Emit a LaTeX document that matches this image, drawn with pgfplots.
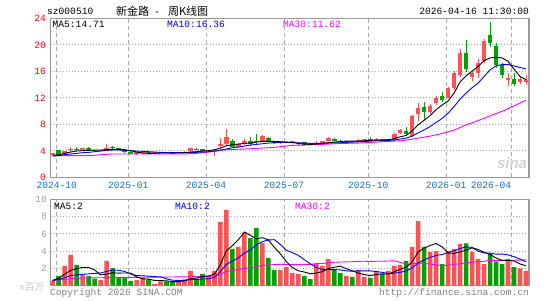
\documentclass[border=0pt]{standalone}
\usepackage{pgfplots}
\pgfplotsset{compat=1.18}
\usepackage{pgfplotstable}
\usepackage{fontspec}
\setmainfont{Liberation Sans}
\setmonofont{Liberation Mono}
\newfontfamily\cjk{Noto Sans CJK SC}
\definecolor{kred}{RGB}{255,82,82}
\definecolor{kgreen}{RGB}{0,160,0}
\definecolor{mablue}{RGB}{0,0,255}
\definecolor{mamag}{RGB}{255,0,255}
\definecolor{framegray}{RGB}{153,153,153}
\definecolor{gridgray}{RGB}{170,170,170}
\definecolor{datecol}{RGB}{20,110,200}
\definecolor{vgray}{RGB}{160,160,160}
\newcommand\mono{\ttfamily\fontsize{9.6}{10}\selectfont}

% weekly candles: index, open, high, low, close
\pgfplotstableread{
i o h l c
0 3.35 3.65 3.30 3.60
2 3.55 3.95 3.50 3.90
3 4.15 4.50 3.75 4.25
5 4.10 4.40 4.05 4.35
8 3.95 4.15 3.90 4.10
9 4.15 5.00 4.05 4.45
14 3.50 3.80 3.35 3.75
15 3.60 3.90 3.55 3.85
17 3.70 3.80 3.65 3.75
18 3.70 3.85 3.65 3.80
21 3.65 3.80 3.60 3.75
22 3.75 3.90 3.70 3.85
23 3.90 4.45 3.85 4.40
26 4.00 4.15 3.95 4.10
27 4.05 4.15 3.20 4.10
28 4.70 5.90 4.60 5.00
29 5.00 7.30 4.80 6.10
31 4.60 5.10 4.50 5.05
32 5.00 5.80 4.90 5.50
35 5.50 6.30 5.40 6.20
38 5.15 5.40 5.00 5.25
39 5.20 5.50 5.10 5.35
40 5.30 5.50 5.15 5.40
41 5.10 5.30 4.75 5.15
44 4.90 5.50 4.85 5.20
45 5.15 5.50 5.05 5.40
46 5.45 6.10 5.40 5.95
49 5.30 5.45 5.25 5.40
51 5.30 5.80 5.10 5.55
52 5.55 5.80 5.50 5.70
54 5.60 5.85 5.55 5.75
56 5.45 5.80 5.40 5.75
57 5.65 6.60 5.60 6.50
58 6.60 7.30 6.50 7.10
60 6.20 9.40 6.10 9.20
61 9.60 11.20 8.50 10.40
63 9.90 11.00 9.50 10.70
64 11.15 12.30 10.90 12.00
66 12.00 13.60 11.90 13.45
67 13.45 16.00 13.20 15.80
68 15.50 19.40 15.20 18.80
70 15.20 16.00 14.50 15.80
71 15.80 17.80 15.00 17.20
72 17.50 20.80 17.30 20.60
76 14.60 15.70 13.80 15.00
78 14.30 15.10 14.10 14.80
79 14.40 15.50 13.90 14.70
}\kR
\pgfplotstableread{
i o h l c
1 4.10 4.15 3.30 3.35
4 4.30 4.50 4.00 4.20
6 4.40 4.60 3.95 4.05
7 4.05 4.15 3.90 3.95
10 4.50 4.75 4.20 4.45
11 4.35 4.45 4.15 4.20
12 4.15 4.25 3.60 3.80
13 3.85 3.90 3.50 3.55
16 3.80 3.90 3.65 3.70
19 3.80 3.85 3.65 3.70
20 3.70 3.75 3.60 3.65
24 4.30 4.40 4.10 4.25
25 4.20 4.25 3.85 3.90
30 5.50 5.70 4.50 4.60
33 5.40 6.10 4.70 5.00
34 5.40 6.50 4.90 5.30
36 5.90 6.00 5.30 5.45
37 5.45 5.50 5.00 5.20
42 5.25 5.35 4.85 4.90
43 4.95 5.05 4.80 4.85
47 5.80 5.85 5.40 5.45
48 5.50 5.55 5.20 5.25
50 5.40 5.45 5.25 5.30
53 5.75 6.00 5.50 5.70
55 5.75 5.80 5.45 5.50
59 7.00 7.60 6.20 6.50
62 10.60 11.30 8.80 9.90
65 12.30 12.90 11.40 11.65
69 18.80 20.70 15.90 16.40
73 21.50 23.50 19.70 20.30
74 19.80 20.20 16.50 16.90
75 16.90 17.20 14.90 15.40
77 14.80 15.80 13.80 14.10
}\kG
% volume (x million)
\pgfplotstableread{
i v
0 0.55
2 2.27
3 3.55
5 1.2
8 0.64
9 2.85
14 0.64
15 0.9
17 0.17
18 0.47
21 0.64
22 0.7
23 1.7
26 1.0
27 1.7
28 7.4
29 8.8
31 4.5
32 6.15
35 4.95
38 1.8
39 2.15
40 1.45
41 1.35
44 2.6
45 2.27
46 3.1
49 1.1
51 1.8
52 1.0
54 1.7
56 1.7
57 2.3
58 2.4
60 4.5
61 7.5
63 3.9
64 4.0
66 4.0
67 4.25
68 4.85
70 3.9
71 3.1
72 2.5
76 3.1
78 2.0
79 1.7
}\vR
\pgfplotstableread{
i v
1 1.1
4 2.4
6 1.1
7 0.8
10 2.03
11 0.9
12 0.9
13 0.55
16 0.7
19 0.47
20 0.47
24 0.8
25 1.34
30 4.25
33 5.5
34 6.7
36 3.2
37 1.8
42 1.1
43 0.75
47 1.9
48 1.45
50 1.0
53 0.9
55 1.35
59 2.85
62 4.5
65 2.5
69 4.9
73 3.7
74 2.8
75 2.5
77 2.15
}\vG
% price moving averages: MA5 MA10 MA30
\pgfplotstableread{
i a b c
0 3.3 3.2 3.25
1 3.35 3.25 3.25
2 3.6 3.4 3.25
3 3.8 3.5 3.25
4 3.95 3.6 3.25
5 4.0 3.7 3.25
6 4.05 3.75 3.25
7 4.1 3.85 3.3
8 4.1 3.95 3.4
9 4.15 4.05 3.45
10 4.2 4.1 3.5
11 4.2 4.1 3.5
12 4.15 4.05 3.5
13 4.0 4.0 3.5
14 3.8 3.95 3.5
15 3.65 3.9 3.5
16 3.6 3.85 3.5
17 3.6 3.8 3.5
18 3.65 3.75 3.5
19 3.65 3.7 3.5
20 3.65 3.7 3.5
21 3.65 3.7 3.5
22 3.7 3.7 3.5
23 3.8 3.72 3.55
24 3.85 3.75 3.6
25 3.95 3.8 3.7
26 4.0 3.85 3.8
27 4.15 3.95 3.9
28 4.4 4.1 4.05
29 4.75 4.25 4.15
30 4.9 4.45 4.2
31 5.0 4.55 4.22
32 5.1 4.7 4.25
33 5.15 4.85 4.3
34 5.3 4.95 4.35
35 5.4 5.05 4.4
36 5.4 5.15 4.45
37 5.4 5.2 4.5
38 5.35 5.25 4.6
39 5.3 5.25 4.7
40 5.25 5.2 4.8
41 5.1 5.2 4.85
42 5.0 5.15 4.85
43 4.95 5.1 4.9
44 5.0 5.1 4.9
45 5.1 5.1 4.95
46 5.2 5.15 5.0
47 5.3 5.2 5.05
48 5.4 5.2 5.1
49 5.45 5.25 5.1
50 5.45 5.3 5.15
51 5.45 5.35 5.15
52 5.5 5.4 5.2
53 5.55 5.45 5.25
54 5.6 5.5 5.3
55 5.6 5.5 5.35
56 5.65 5.55 5.4
57 5.8 5.6 5.45
58 6.1 5.75 5.5
59 6.3 5.9 5.6
60 7.0 6.2 5.75
61 7.9 6.7 5.9
62 8.6 7.15 6.05
63 9.3 7.65 6.2
64 10.2 8.28 6.4
65 10.9 8.87 6.6
66 11.5 9.67 6.85
67 12.7 10.67 7.1
68 14.4 11.8 7.5
69 15.3 12.7 7.9
70 16.0 13.5 8.2
71 16.7 14.2 8.55
72 17.6 15.2 8.9
73 18.0 16.2 9.25
74 18.1 16.8 9.6
75 18.0 17.0 9.95
76 17.5 17.0 10.35
77 16.3 16.8 10.75
78 15.2 16.55 11.2
79 14.71 16.36 11.62
}\maK
% volume moving averages: MA5 MA10 MA30
\pgfplotstableread{
i a b c
0 0.6 0.6 0.6
1 0.85 0.7 0.65
2 1.3 0.9 0.7
3 1.75 1.15 0.8
4 1.97 1.25 0.85
5 2.1 1.3 0.87
6 2.1 1.35 0.88
7 1.81 1.4 0.9
8 1.23 1.45 0.9
9 1.32 1.65 0.92
10 1.48 1.79 0.93
11 1.44 1.77 0.94
12 1.46 1.64 0.95
13 1.45 1.34 0.95
14 1.0 1.16 0.95
15 0.78 1.13 0.96
16 0.74 1.09 0.97
17 0.59 1.03 0.97
18 0.58 1.01 0.98
19 0.54 0.77 0.98
20 0.46 0.62 0.99
21 0.44 0.59 1.0
22 0.55 0.57 1.0
23 0.8 0.69 1.02
24 0.86 0.7 1.03
25 1.04 0.75 1.04
26 1.11 0.78 1.05
27 1.31 0.93 1.1
28 2.45 1.62 1.35
29 4.05 2.46 1.62
30 4.63 2.83 1.75
31 5.33 3.22 1.86
32 6.22 3.76 1.99
33 5.84 4.14 2.06
34 5.42 4.73 2.2
35 5.56 5.1 2.32
36 5.3 5.3 2.39
37 4.43 5.33 2.43
38 3.69 4.77 2.47
39 2.78 4.1 2.44
40 2.08 3.82 2.42
41 1.71 3.5 2.44
42 1.57 3.0 2.45
43 1.36 2.53 2.45
44 1.45 2.1 2.52
45 1.61 1.85 2.56
46 1.96 1.84 2.64
47 2.12 1.85 2.7
48 2.26 1.81 2.73
49 1.96 1.71 2.75
50 1.71 1.66 2.77
51 1.45 1.71 2.81
52 1.27 1.7 2.82
53 1.16 1.71 2.79
54 1.28 1.62 2.82
55 1.35 1.53 2.82
56 1.33 1.39 2.85
57 1.59 1.43 2.87
58 1.89 1.53 2.7
59 2.12 1.7 2.5
60 2.75 2.05 2.51
61 3.91 2.62 2.61
62 4.35 2.97 2.56
63 4.65 3.27 2.5
64 4.88 3.5 2.41
65 4.48 3.6 2.33
66 3.78 3.85 2.36
67 3.73 4.04 2.44
68 3.92 4.29 2.54
69 4.1 4.49 2.63
70 4.38 4.43 2.71
71 4.2 3.99 2.77
72 3.85 3.79 2.82
73 3.62 3.77 2.92
74 3.2 3.65 2.92
75 2.92 3.65 2.93
76 2.92 3.56 2.93
77 2.85 3.35 2.94
78 2.51 3.07 2.96
79 2.29 2.75 2.98
}\maV

\pgfplotsset{
  kax/.style={
    scale only axis, width=478.3pt, xmin=-0.33, xmax=79.5,
    axis line style={framegray, line width=1.3pt},
    major tick length=0pt,
    xtick={0.67,12.6,25.6,38.6,52.67,65.67,76.6},
    xmajorgrids, ymajorgrids,
    major x grid style={gridgray, line width=0.9pt, dash pattern=on 4pt off 3pt},
    major y grid style={gridgray, line width=0.9pt, dash pattern=on 1pt off 2pt},
    clip=true,
  },
  wick/.style={forget plot, draw=none, mark=none,
    error bars/.cd, y dir=both, y explicit, error mark=none,
    error bar style={draw=#1, line width=1pt, solid}},
  body/.style={forget plot, draw=none, mark=none,
    error bars/.cd, y dir=both, y explicit, error mark=none,
    error bar style={draw=#1, line width=4.6pt, solid}},
  maline/.style={forget plot, mark=none, line width=0.9pt, draw=#1},
  vbar/.style={forget plot, ybar, bar width=4.6pt, bar shift=0pt, fill=#1, draw=none},
}

\begin{document}
\begin{tikzpicture}[x=1pt,y=1pt]
\useasboundingbox (0,0) rectangle (545,-300);

% ---------- price panel ----------
\begin{axis}[kax, at={(50.7pt,-177.2pt)}, anchor=south west,
  height=159pt, ymin=0, ymax=24,
  ytick={0,4,8,12,16,20,24}, yticklabels={0,4,8,12,16,20,24},
  yticklabel style={font=\mono, text=red, inner sep=0pt, anchor=base east,
    text depth=0pt, xshift=-4.5pt, yshift=-3.3pt},
  xticklabels={2024-10,2025-01,2025-04,2025-07,2025-10,2026-01,{}},
  xticklabel style={font=\mono, text=datecol, inner sep=0pt, yshift=-4.4pt},
]
\addplot[wick=kred] table[x=i, y=l, y error plus expr=\thisrow{h}-\thisrow{l}, y error minus expr=0] {\kR};
\addplot[body=kred] table[x=i, y=o, y error plus expr=\thisrow{c}-\thisrow{o}, y error minus expr=0] {\kR};
\addplot[wick=kgreen] table[x=i, y=l, y error plus expr=\thisrow{h}-\thisrow{l}, y error minus expr=0] {\kG};
\addplot[body=kgreen] table[x=i, y=c, y error plus expr=\thisrow{o}-\thisrow{c}, y error minus expr=0] {\kG};
\addplot[maline=mamag] table[x=i, y=c] {\maK};
\addplot[maline=mablue] table[x=i, y=b] {\maK};
\addplot[maline=black] table[x=i, y=a] {\maK};
\end{axis}

% ---------- volume panel ----------
\begin{axis}[kax, at={(50.7pt,-285.5pt)}, anchor=south west,
  height=86pt, ymin=0, ymax=10,
  ytick={0,2,4,6,8,10}, yticklabels={{},2,4,6,8,10},
  yticklabel style={font=\mono, text=vgray, inner sep=0pt, xshift=-3.7pt},
  xticklabels={},
]
\addplot[vbar=kred] table[x=i, y=v] {\vR};
\addplot[vbar=kgreen] table[x=i, y=v] {\vG};
\addplot[maline=mamag] table[x=i, y=c] {\maV};
\addplot[maline=mablue] table[x=i, y=b] {\maV};
\addplot[maline=black] table[x=i, y=a] {\maV};
\end{axis}

% ---------- texts ----------
\node[anchor=west, inner sep=0pt, font=\mono] at (47,-11) {sz000510};
\node[anchor=west, inner sep=0pt] at (116,-11) {\cjk\fontsize{11}{12}\selectfont 新金路\hspace{6pt}-\hspace{9pt}周K线图};
\node[anchor=east, inner sep=0pt, font=\mono] at (529,-11) {2026-04-16 11:30:00};

\node[anchor=north east, inner sep=0pt, font=\mono, text=datecol] at (511.3,-181.6) {2026-04};

\node[anchor=west, inner sep=0pt, font=\mono] at (52.5,-24) {MA5:14.71};
\node[anchor=west, inner sep=0pt, font=\mono, text=mablue] at (167,-24) {MA10:16.36};
\node[anchor=west, inner sep=0pt, font=\mono, text=mamag] at (283,-24) {MA30:11.62};

\node[anchor=west, inner sep=0pt, font=\mono] at (54,-206) {MA5:2};
\node[anchor=west, inner sep=0pt, font=\mono, text=mablue] at (175,-206) {MA10:2};
\node[anchor=west, inner sep=0pt, font=\mono, text=mamag] at (295,-206) {MA30:2};

\node[anchor=center, inner sep=0pt, text=gray!35, font=\bfseries\itshape\fontsize{15}{16}\selectfont] at (512,-163) {sina};

\node[anchor=west, inner sep=0pt, text=gray!45] at (19,-287) {\mono x\cjk\fontsize{9.6}{10}\selectfont 百万};
\node[anchor=west, inner sep=0pt, font=\mono, text=gray] at (50,-293) {Copyright 2026 SINA.COM};
\node[anchor=east, inner sep=0pt, font=\mono, text=gray] at (529,-293) {http://finance.sina.com.cn};
\end{tikzpicture}
\end{document}
